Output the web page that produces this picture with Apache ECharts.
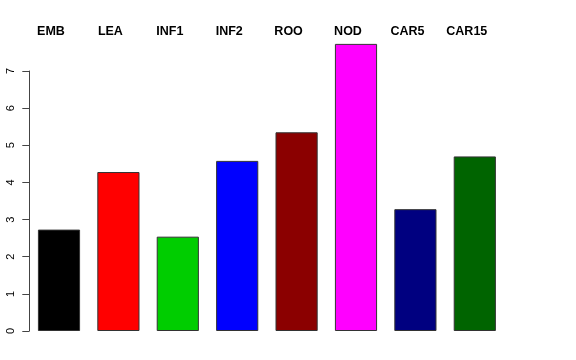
<!DOCTYPE html>
<html><head><meta charset="utf-8">
<script src="https://cdn.jsdelivr.net/npm/echarts@6/dist/echarts.min.js"></script>
<style>html,body{margin:0;padding:0;background:#fff}#c{width:576px;height:360px}</style>
</head><body><div id="c"></div>
<script>
var categories = ['EMB','LEA','INF1','INF2','ROO','NOD','CAR5','CAR15'];
var values = [2.73, 4.28, 2.54, 4.58, 5.35, 7.73, 3.28, 4.70];
var colors = ['#000000','#FF0000','#00CD00','#0000FF','#8B0000','#FF00FF','#000080','#006400'];
var yTicks = [0,1,2,3,4,5,6,7];

var chart = echarts.init(document.getElementById('c'), null, {renderer:'canvas'});
chart.setOption({
  animation: false,
  backgroundColor: '#ffffff',
  grid: [
    {left: 29.3, width: 475.2, top: 71, bottom: 29},
    {left: 21.3, width: 475.2, top: 71, bottom: 29}
  ],
  xAxis: [
    {type:'category', gridIndex:0, data: categories, axisLine:{show:false}, axisTick:{show:false}, axisLabel:{show:false}},
    {type:'category', gridIndex:1, position:'top', data: categories, axisLine:{show:false}, axisTick:{show:false},
     axisLabel:{show:true, interval:0, margin:33, fontFamily:'Liberation Sans, Arial, sans-serif', fontWeight:'bold', fontSize:12.5, color:'#000'}}
  ],
  yAxis: [
    {type:'value', gridIndex:0, min: yTicks[0], max: yTicks[yTicks.length-1], interval:1, splitLine:{show:false},
     axisLine:{show:true, lineStyle:{color:'#444', width:1}},
     axisTick:{show:true, length:7, lineStyle:{color:'#444'}},
     axisLabel:{rotate:90, margin:13, fontFamily:'Liberation Sans, Arial, sans-serif', fontSize:11, color:'#000'}},
    {type:'value', gridIndex:1, show:false, min:0, max:7}
  ],
  series: [{
    type:'bar', xAxisIndex:0, yAxisIndex:0, clip:false,
    barCategoryGap:'29%',
    data: values.map(function(v,i){ return {value:v, itemStyle:{color:colors[i]}}; }),
    itemStyle:{borderColor:'#333', borderWidth:1}
  }]
});
</script></body></html>
